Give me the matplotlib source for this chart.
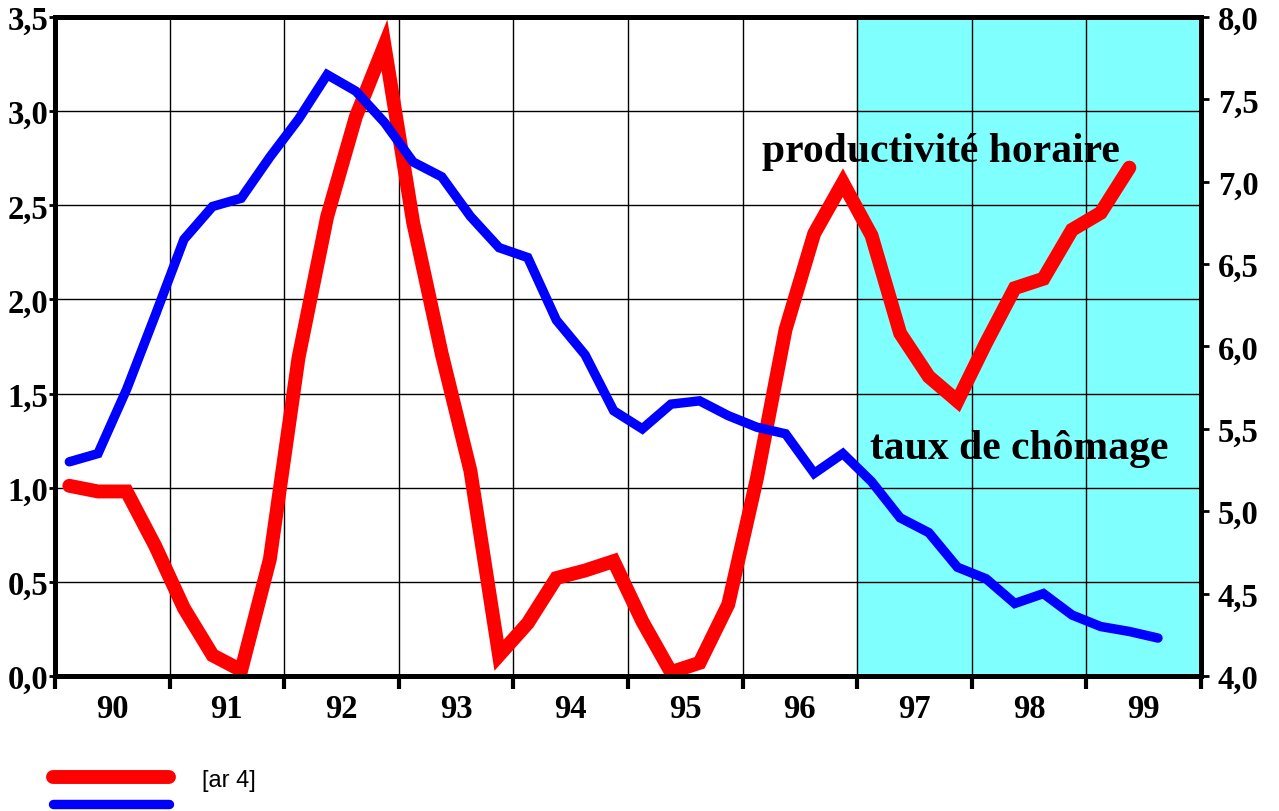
import matplotlib
matplotlib.use("Agg")
import matplotlib.pyplot as plt
from matplotlib.ticker import FuncFormatter
import numpy as np

# quarterly data, 1990Q1 onwards
productivite = [1.01, 0.98, 0.98, 0.69,
                0.36, 0.11, 0.03, 0.62,
                1.69, 2.44, 2.97, 3.35,
                2.41, 1.71, 1.09, 0.11,
                0.28, 0.52, 0.56, 0.61,
                0.29, 0.02, 0.07, 0.38,
                1.05, 1.84, 2.35, 2.62,
                2.34, 1.82, 1.59, 1.46,
                1.77, 2.06, 2.11, 2.37,
                2.46, 2.70]
chomage = [5.30, 5.35, 5.74, 6.19,
           6.65, 6.85, 6.90, 7.15,
           7.38, 7.65, 7.55, 7.36,
           7.12, 7.03, 6.79, 6.60,
           6.54, 6.16, 5.95, 5.61,
           5.50, 5.65, 5.67, 5.58,
           5.51, 5.47, 5.23, 5.35,
           5.18, 4.96, 4.87, 4.66,
           4.59, 4.44, 4.50, 4.37,
           4.30, 4.27, 4.23]
years = ["90", "91", "92", "93", "94", "95", "96", "97", "98", "99"]

serif = "Liberation Serif"
comma = FuncFormatter(lambda v, p: f"{v:.1f}".replace(".", ","))

fig = plt.figure(figsize=(12.79, 8.12), dpi=100)
ax = fig.add_axes([0.043, 0.1663, 0.896, 0.8115])
ax2 = ax.twinx()  # on top: blue line over red one

x_prod = (np.arange(len(productivite)) + 0.5) / 4
x_cho = (np.arange(len(chomage)) + 0.5) / 4

# shaded zone 97-99
ax.axvspan(7, 10, color="#80ffff", zorder=0)

ax.plot(x_prod, productivite, color="#ff0000", lw=10, solid_capstyle="round",
        solid_joinstyle="miter", zorder=3)
ax2.plot(x_cho, chomage, color="#0000ff", lw=6.8, solid_capstyle="round",
         solid_joinstyle="miter", zorder=3)

ax.set_xlim(0, 10)
ax.set_ylim(0, 3.5)
ax2.set_ylim(4.0, 8.0)
ax.set_yticks(np.arange(0, 3.51, 0.5))
ax2.set_yticks(np.arange(4.0, 8.01, 0.5))
ax.yaxis.set_major_formatter(comma)
ax2.yaxis.set_major_formatter(comma)

ax.set_xticks(np.arange(0, 11))
ax.set_xticklabels([])
ax.set_xticks(np.arange(10) + 0.5, minor=True)
ax.set_xticklabels(years, minor=True)
ax.tick_params(axis="x", which="minor", length=0, pad=12)
ax.tick_params(axis="x", which="major", direction="out", length=9, width=3)

ax.set_axisbelow(True)
ax.grid(True, which="major", color="black", lw=1.0)

for lab in ax.get_xticklabels(minor=True) + ax.get_yticklabels() + ax2.get_yticklabels():
    lab.set_fontfamily(serif)
    lab.set_fontweight("bold")
    lab.set_fontsize(23.5)
ax.tick_params(axis="y", length=4, width=2, pad=1)
ax2.tick_params(axis="y", length=6, width=2, pad=6)

for a in (ax, ax2):
    for s in a.spines.values():
        s.set_linewidth(3.5)

ax.text(7.73, 2.79, "productivité horaire", fontfamily=serif, fontweight="bold",
        fontsize=30, ha="center", va="center", zorder=4)
ax.text(8.41, 1.21, "taux de chômage", fontfamily=serif, fontweight="bold",
        fontsize=30, ha="center", va="center", zorder=4)

red = plt.Line2D([], [], color="#ff0000", lw=10, solid_capstyle="round")
blue = plt.Line2D([], [], color="#0000ff", lw=6.8, solid_capstyle="round")
fig.legend([red, blue], ["[ar 4]", ""], loc="lower left",
           bbox_to_anchor=(0.025, -0.034), frameon=False, handlelength=4.9,
           labelspacing=0.2, handletextpad=1.4,
           prop={"family": "Liberation Sans", "size": 17})

fig.savefig("out.png", dpi=100)
